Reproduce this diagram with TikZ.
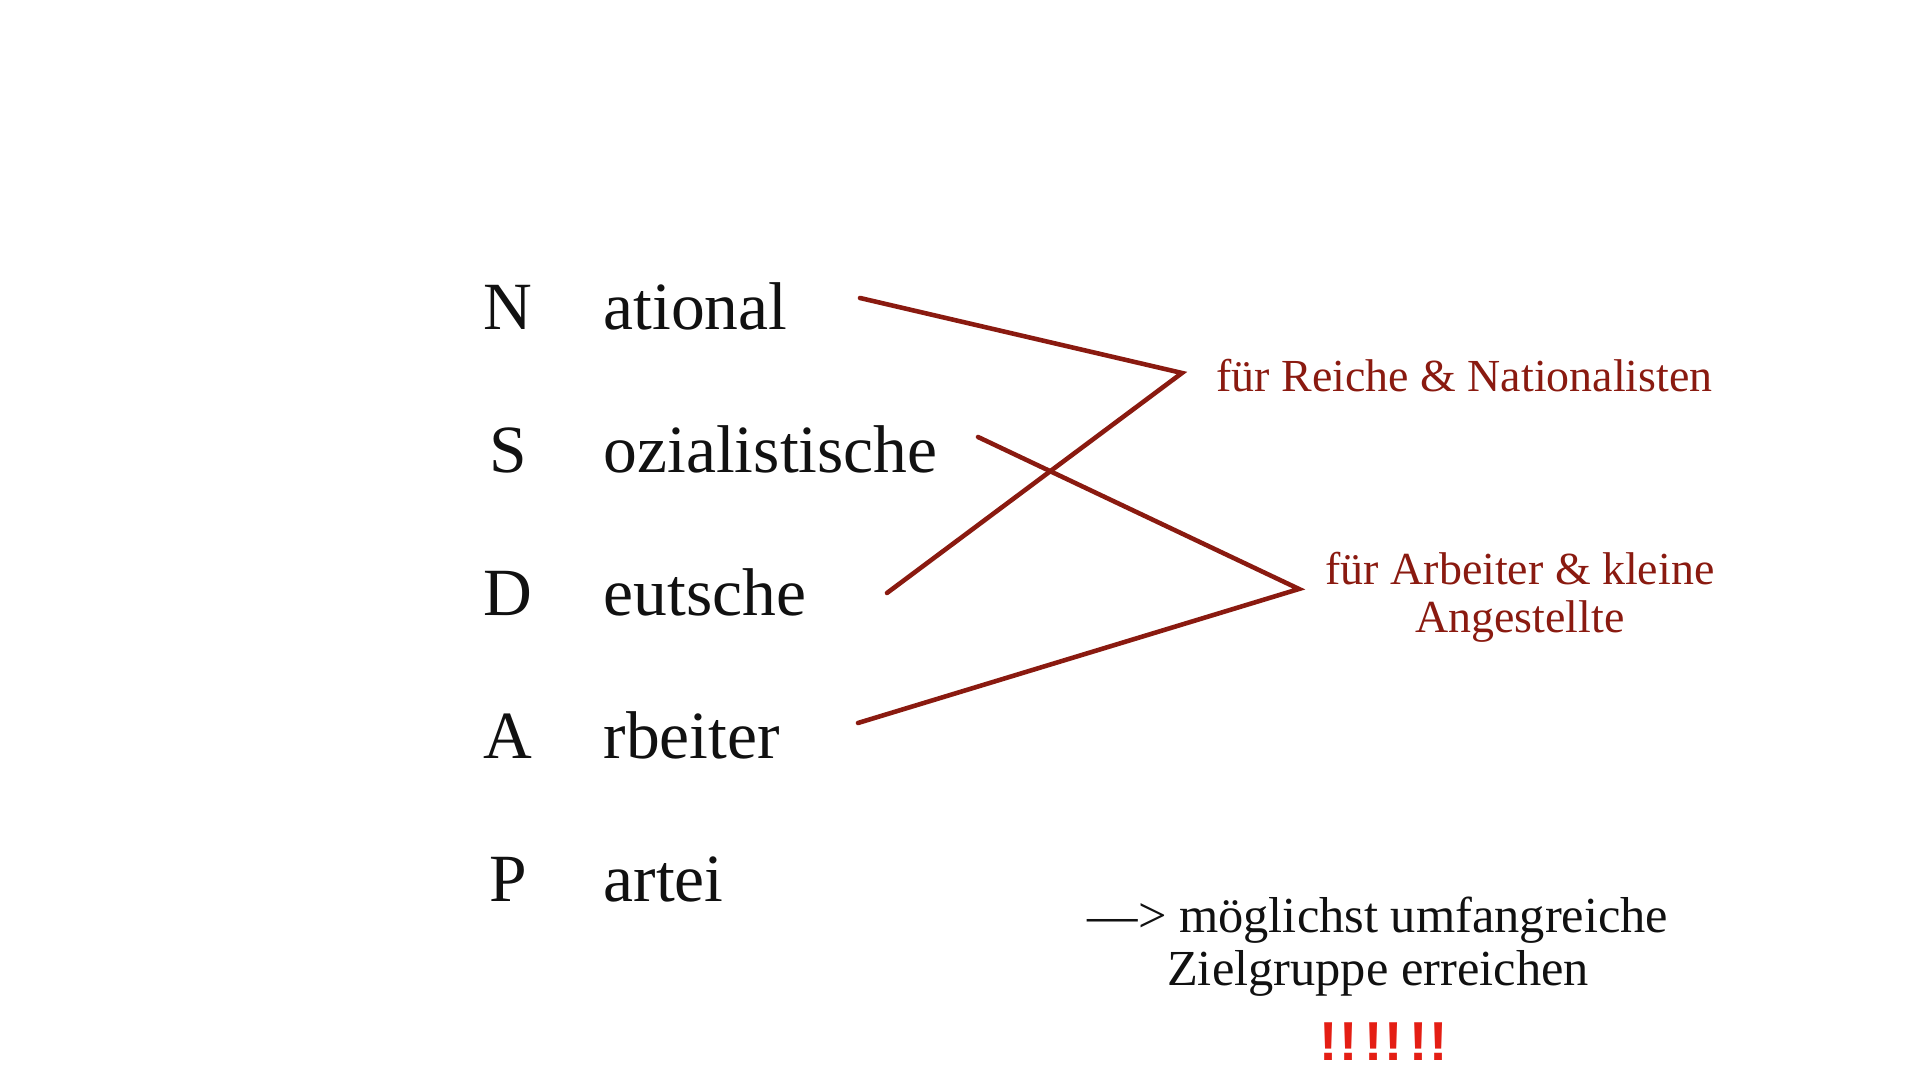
\documentclass[tikz,border=0pt]{standalone}
\usepackage{fontspec}
\setmainfont{Liberation Serif}
\newfontfamily\exclfont{Liberation Sans}
\usepackage{xcolor}
\usepackage{tikz}

\definecolor{linkred}{RGB}{138,26,16}
\definecolor{alarmred}{RGB}{228,30,20}
\definecolor{inkblack}{RGB}{17,17,17}

\begin{document}
\begin{tikzpicture}[x=0.01cm,y=-0.01cm,
	letterbox/.style={anchor=base, inner sep=0pt, text=inkblack, font=\fontsize{19.2}{23}\selectfont},
	wordbox/.style={anchor=base west, inner sep=0pt, text=inkblack, font=\fontsize{19.2}{23}\selectfont},
	groupbox/.style={inner sep=0pt, text=linkred, font=\fontsize{13.05}{13.7}\selectfont},
	notebox/.style={inner sep=0pt, text=inkblack, font=\fontsize{14.35}{15.1}\selectfont},
	link/.style={draw=linkred, line width=1.3pt, line cap=round}]
\fill[white] (0,0) rectangle (1920,1080);
\useasboundingbox (0,0) rectangle (1920,1080);
\foreach \ltr/\rest [count=\i] in {N/ational, S/ozialistische, D/eutsche, A/rbeiter, P/artei}
{
	\node[letterbox] (l\i) at (508, 187+143*\i) {\ltr};
	\node[wordbox] (w\i) at (603, 187+143*\i) {\rest};
}
\node[groupbox, anchor=base west] (reiche) at (1216,392) {für Reiche \& Nationalisten};
\node[groupbox, align=center] (arbeiter) at (1520,597) {für Arbeiter \& kleine\\Angestellte};
\node[notebox, align=center] (ziel) at (1378,947) {—> möglichst umfangreiche\\Zielgruppe erreichen};
\node[inner sep=0pt, text=alarmred, font=\exclfont\bfseries\fontsize{15.6}{17}\selectfont] (ausruf) at (1384,1042)
	{!\kern0.5pt!\kern1.9pt!\kern0.5pt!\kern1.9pt!\kern0.5pt!};
\coordinate (nStart) at (860,298);
\coordinate (dStart) at (887,593);
\coordinate (sStart) at (978,437);
\coordinate (aStart) at (858,723);
\coordinate (v1) at (1182,373);
\coordinate (v2) at (1299,589);
\draw[link] (nStart) -- (v1) -- (dStart);
\draw[link] (sStart) -- (v2) -- (aStart);
\end{tikzpicture}
\end{document}
